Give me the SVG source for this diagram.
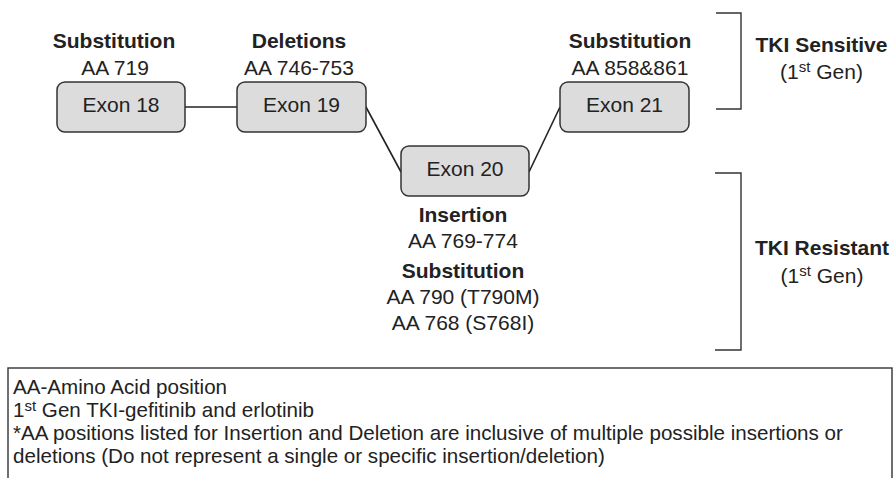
<svg xmlns="http://www.w3.org/2000/svg" width="893" height="478" viewBox="0 0 893 478">
<style>
text{font-family:"Liberation Sans",Arial,sans-serif;fill:#222;}
.lb{font-size:21px;text-anchor:middle;}
.b{font-weight:bold;}
.ex{font-size:21px;text-anchor:middle;}
.ft{font-size:20.6px;}
.sup{font-size:15px;}
.box{fill:#dcdcdc;stroke:#333;stroke-width:1.5;}
.ln{stroke:#222;stroke-width:1.6;fill:none;}
.br{stroke:#333;stroke-width:1.4;fill:none;}
</style>
<rect width="893" height="478" fill="#fff"/>
<g id="connectors">
<line class="ln" x1="185" y1="107" x2="237" y2="107"/>
<line class="ln" x1="366" y1="107" x2="401" y2="172"/>
<line class="ln" x1="529" y1="172" x2="560" y2="107"/>
</g>
<g id="exon18">
<rect class="box" x="57" y="82" width="128" height="50" rx="8"/>
<text class="ex" x="121" y="112">Exon 18</text>
<text class="lb b" x="114" y="48">Substitution</text>
<text class="lb" x="115" y="75">AA 719</text>
</g>
<g id="exon19">
<rect class="box" x="237" y="82" width="129" height="50" rx="8"/>
<text class="ex" x="301.5" y="112">Exon 19</text>
<text class="lb b" x="299" y="48">Deletions</text>
<text class="lb" x="299" y="75">AA 746-753</text>
</g>
<g id="exon20">
<rect class="box" x="401" y="146" width="128" height="50" rx="8"/>
<text class="ex" x="465" y="176">Exon 20</text>
<text class="lb b" x="463" y="222">Insertion</text>
<text class="lb" x="463" y="248">AA 769-774</text>
<text class="lb b" x="463" y="278">Substitution</text>
<text class="lb" x="463" y="304">AA 790 (T790M)</text>
<text class="lb" x="463" y="330">AA 768 (S768I)</text>
</g>
<g id="exon21">
<rect class="box" x="560" y="82" width="129" height="50" rx="8"/>
<text class="ex" x="624.5" y="112">Exon 21</text>
<text class="lb b" x="630" y="48">Substitution</text>
<text class="lb" x="630" y="75">AA 858&amp;861</text>
</g>
<g id="sensitive">
<polyline class="br" points="716,13 741,13 741,109 716,109"/>
<text class="lb b" x="821.5" y="52">TKI Sensitive</text>
<text class="lb" x="821.5" y="79">(1<tspan class="sup" dy="-7">st</tspan><tspan dy="7"> Gen)</tspan></text>
</g>
<g id="resistant">
<polyline class="br" points="715,173 741,173 741,350 715,350"/>
<text class="lb b" x="822" y="255">TKI Resistant</text>
<text class="lb" x="822" y="283">(1<tspan class="sup" dy="-7">st</tspan><tspan dy="7"> Gen)</tspan></text>
</g>
<g id="legend">
<rect x="8" y="368" width="884" height="120" fill="none" stroke="#333" stroke-width="1.4"/>
<text class="ft" x="13" y="394">AA-Amino Acid position</text>
<text class="ft" x="13" y="417">1<tspan class="sup" dy="-6">st</tspan><tspan dy="6"> Gen TKI-gefitinib and erlotinib</tspan></text>
<text class="ft" x="13" y="440">*AA positions listed for Insertion and Deletion are inclusive of multiple possible insertions or</text>
<text class="ft" x="13" y="463">deletions (Do not represent a single or specific insertion/deletion)</text>
</g>
</svg>
